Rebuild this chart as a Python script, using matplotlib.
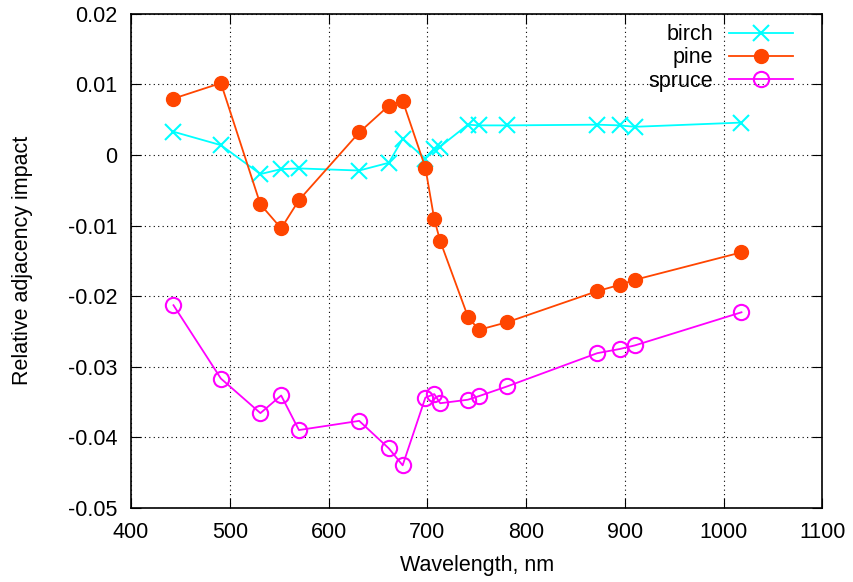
import numpy as np
import matplotlib
matplotlib.use("Agg")
import matplotlib.pyplot as plt
from matplotlib.ticker import FuncFormatter

# band centres, nm
wl = [443, 491, 531, 552, 570, 631, 661, 675, 698, 707, 713,
      741, 752, 781, 872, 895, 910, 1018]

birch = [0.0033, 0.0014, -0.0027, -0.0020, -0.0019, -0.0022, -0.0011, 0.0023,
         -0.0005, 0.0008, 0.0012, 0.0043, 0.0042, 0.0042, 0.0043, 0.0042,
         0.0040, 0.0046]
pine = [0.0080, 0.0102, -0.0070, -0.0104, -0.0064, 0.0032, 0.0070, 0.0077,
        -0.0018, -0.0091, -0.0122, -0.0229, -0.0248, -0.0237, -0.0193,
        -0.0184, -0.0177, -0.0138]
spruce = [-0.0213, -0.0317, -0.0366, -0.0341, -0.0390, -0.0377, -0.0416,
          -0.0440, -0.0344, -0.0339, -0.0352, -0.0347, -0.0342, -0.0328,
          -0.0281, -0.0275, -0.0270, -0.0223]

plt.rcParams['font.family'] = ['Liberation Sans', 'DejaVu Sans']
plt.rcParams['axes.unicode_minus'] = False
fs = 15.5

fig = plt.figure(figsize=(8.54, 5.82), dpi=100)
ax = fig.add_axes([0.1534, 0.1278, 0.8097, 0.8482])

ax.plot(wl, birch, '-', color='#00ffff', lw=1.3, marker='x', ms=11, mew=1.5, label='birch')
ax.plot(wl, pine, '-', color='#ff4500', lw=1.3, marker='o', ms=10, label='pine')
ax.plot(wl, spruce, '-', color='#ff00ff', lw=1.3, marker='o', ms=11, mfc='none', mew=1.5,
        label='spruce')

ax.set_xlim(400, 1100)
ax.set_ylim(-0.05, 0.02)
ax.set_xticks(np.arange(400, 1101, 100))
ax.set_yticks(np.arange(-0.05, 0.0201, 0.01))
ax.yaxis.set_major_formatter(FuncFormatter(lambda v, p: '%g' % round(v, 3)))
ax.grid(True, color='black', linestyle=(0, (1, 3)), linewidth=0.8)
ax.tick_params(direction='in', top=True, right=True, length=7, labelsize=fs, pad=10)
for s in ax.spines.values():
    s.set_linewidth(1.2)

ax.set_xlabel('Wavelength, nm', fontsize=fs)
ax.set_ylabel('Relative adjacency impact', fontsize=fs)
ax.xaxis.set_label_coords(0.5, -0.118)
ax.xaxis.label.set_va('center')
ax.yaxis.set_label_coords(-0.157, 0.5)
ax.yaxis.label.set_va('center')

leg = ax.legend(loc='upper right', frameon=False, markerfirst=False, fontsize=fs,
                handlelength=2.98, handletextpad=0.74, labelspacing=0.1,
                borderpad=0, borderaxespad=0, bbox_to_anchor=(0.9574, 0.979))
for t in leg.get_texts():
    t.set_ha('right')

fig.savefig('out.png', dpi=100)
